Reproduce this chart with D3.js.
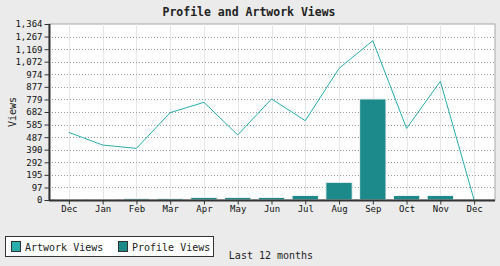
<!DOCTYPE html>
<html>
<head>
<meta charset="utf-8">
<script src="https://cdn.jsdelivr.net/npm/d3@7"></script>
<style>
  body { margin: 0; background: #ebebeb; }
  svg { display: block; font-family: "DejaVu Sans Mono", monospace; }
</style>
</head>
<body>
<div id="chart"></div>
<script>
var months = ["Dec", "Jan", "Feb", "Mar", "Apr", "May", "Jun", "Jul", "Aug", "Sep", "Oct", "Nov", "Dec"];
var artworkViews = [524, 426, 400, 677, 757, 504, 783, 615, 1020, 1235, 555, 920, 0];
var profileViews = [2, 2, 12, 12, 20, 20, 20, 35, 137, 783, 35, 35, 0];
var yTicks = [0, 97, 195, 292, 390, 487, 585, 682, 779, 877, 974, 1072, 1169, 1267, 1364];

var svgWidth = 500;
var svgHeight = 266;

var plot = { left: 49, right: 495, top: 24, bottom: 200 };

var svg = d3.select("#chart")
  .append("svg")
  .attr("width", svgWidth)
  .attr("height", svgHeight);

// plot background
svg.append("rect")
  .attr("x", plot.left)
  .attr("y", plot.top)
  .attr("width", plot.right - plot.left)
  .attr("height", plot.bottom - plot.top)
  .attr("fill", "#fff")
  .attr("stroke", "#a8a8a8")
  .attr("stroke-width", 1);

var xScale = d3.scaleBand()
  .domain(d3.range(months.length))
  .range([52, 491])
  .paddingInner(0.22)
  .paddingOuter(0.11);

var yScale = d3.scaleLinear()
  .domain([0, 1364])
  .range([plot.bottom, plot.top]);

var xCenter = function(i) { return xScale(i) + xScale.bandwidth() / 2; };

// vertical grid
svg.append("g")
  .selectAll("line")
  .data(d3.range(months.length))
  .enter()
  .append("line")
  .attr("x1", d => Math.round(xCenter(d)) + 0.5)
  .attr("x2", d => Math.round(xCenter(d)) + 0.5)
  .attr("y1", plot.top)
  .attr("y2", plot.bottom)
  .attr("stroke", "#e6e6e6")
  .attr("stroke-width", 1);

// horizontal dotted grid
svg.append("g")
  .selectAll("line")
  .data(yTicks.slice(1, -1))
  .enter()
  .append("line")
  .attr("x1", plot.left)
  .attr("x2", plot.right)
  .attr("y1", d => Math.round(yScale(d)) + 0.5)
  .attr("y2", d => Math.round(yScale(d)) + 0.5)
  .attr("stroke", "#999")
  .attr("stroke-dasharray", "1,2")
  .attr("stroke-width", 1);

// profile bars
svg.append("g")
  .selectAll("rect")
  .data(profileViews)
  .enter()
  .append("rect")
  .attr("x", (d, i) => xScale(i))
  .attr("y", d => yScale(d))
  .attr("width", xScale.bandwidth())
  .attr("height", d => plot.bottom - yScale(d))
  .attr("fill", "#1c8a8a")
  .attr("stroke", "#f2f2f2")
  .attr("stroke-width", 1);

// artwork line
var line = d3.line()
  .x((d, i) => xCenter(i))
  .y(d => yScale(d));

svg.append("path")
  .datum(artworkViews)
  .attr("d", line)
  .attr("fill", "none")
  .attr("stroke", "#2aadad")
  .attr("stroke-width", 1);

// axes
var leftAxis = d3.axisLeft(yScale)
  .tickValues(yTicks)
  .tickFormat(d3.format(","))
  .tickSize(5)
  .tickPadding(2);

var yAxisG = svg.append("g")
  .attr("transform", `translate(${plot.left + 0.5},0)`)
  .call(leftAxis);

var xAxisG = svg.append("g")
  .attr("transform", `translate(0,${plot.bottom + 0.5})`)
  .call(d3.axisBottom(d3.scalePoint().domain(d3.range(months.length)).range([xCenter(0), xCenter(months.length - 1)]))
    .tickFormat(i => months[i])
    .tickSize(4)
    .tickPadding(1));

[yAxisG, xAxisG].forEach(function(g) {
  g.selectAll("path").attr("stroke", "#333").attr("stroke-width", 2);
  g.selectAll("line").attr("stroke", "#333");
  g.selectAll("text")
    .attr("fill", "#111")
    .style("font-family", "DejaVu Sans Mono, monospace")
    .style("font-size", "9px");
});
yAxisG.select(".domain").attr("d", `M0,${plot.top}V${plot.bottom}`);
xAxisG.select(".domain").attr("d", `M${plot.left},0H${plot.right}`);

// title
svg.append("text")
  .attr("x", 249)
  .attr("y", 16)
  .attr("text-anchor", "middle")
  .style("font-size", "11.5px")
  .style("font-weight", "bold")
  .attr("fill", "#222")
  .text("Profile and Artwork Views");

// y label
svg.append("text")
  .attr("transform", `translate(16,${(plot.top + plot.bottom) / 2}) rotate(-90)`)
  .attr("text-anchor", "middle")
  .style("font-size", "10px")
  .attr("fill", "#222")
  .text("Views");

// x label
svg.append("text")
  .attr("x", 271)
  .attr("y", 259)
  .attr("text-anchor", "middle")
  .style("font-size", "10px")
  .attr("fill", "#222")
  .text("Last 12 months");

// legend
var legend = svg.append("g");
legend.append("rect")
  .attr("x", 5.5)
  .attr("y", 236.5)
  .attr("width", 208)
  .attr("height", 20)
  .attr("fill", "#fff")
  .attr("stroke", "#333")
  .attr("stroke-width", 1);

var legendItems = [
  { name: "Artwork Views", color: "#2aadad", x: 11 },
  { name: "Profile Views", color: "#1c8a8a", x: 118 }
];

legendItems.forEach(function(item) {
  legend.append("rect")
    .attr("x", item.x + 0.5)
    .attr("y", 241.5)
    .attr("width", 9)
    .attr("height", 10)
    .attr("fill", item.color)
    .attr("stroke", "#333");
  legend.append("text")
    .attr("x", item.x + 14)
    .attr("y", 250.5)
    .style("font-size", "10px")
    .attr("fill", "#222")
    .text(item.name);
});
</script>
</body>
</html>
